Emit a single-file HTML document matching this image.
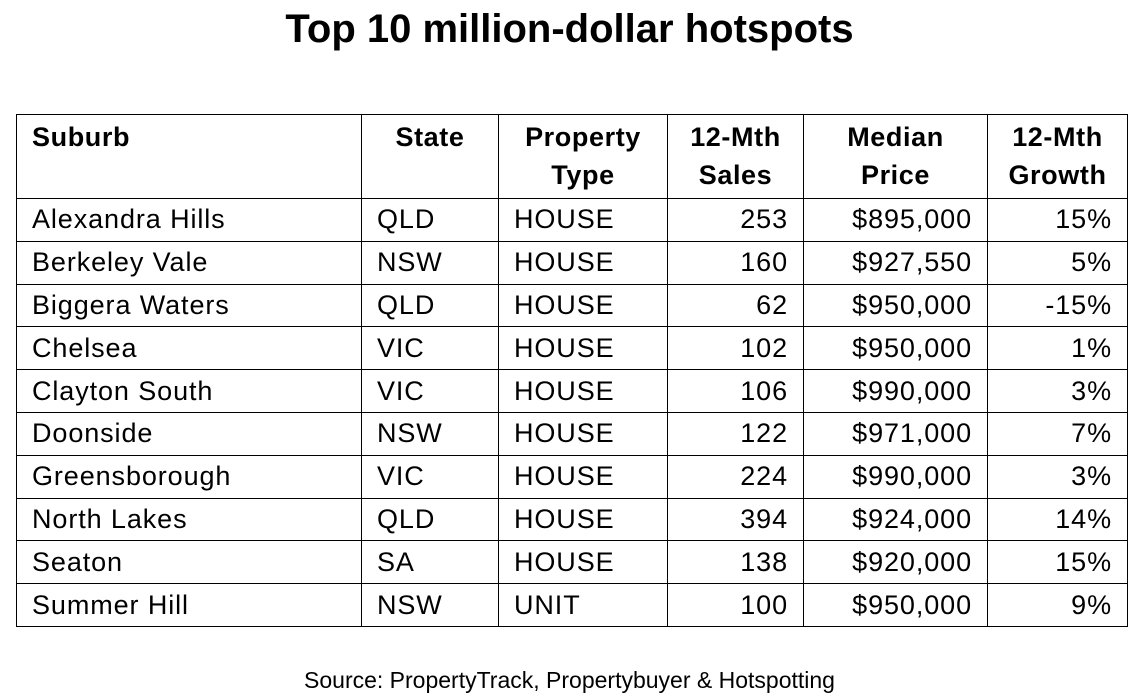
<!DOCTYPE html>
<html><head><meta charset="utf-8"><style>
body{margin:0;width:1139px;height:698px;background:#fff;font-family:"Liberation Sans",sans-serif;color:#000;position:relative;overflow:hidden}
h1{position:absolute;top:7px;left:0;width:1139px;text-align:center;margin:0;font-size:40px;font-weight:bold}
table{position:absolute;left:16px;top:114px;border-collapse:collapse;table-layout:fixed;font-size:27px}
td,th{border:1px solid #000;padding:0 15px;white-space:nowrap;overflow:hidden}
th{height:80px;vertical-align:top;padding-top:3px;line-height:38px;font-weight:bold;text-align:center;letter-spacing:0.6px}
th.l{text-align:left}
td{height:41.8px;line-height:41px;letter-spacing:0.9px}
td.r{text-align:right}
.src{position:absolute;top:667px;left:0;width:1139px;text-align:center;font-size:23px}
</style></head><body>
<h1>Top 10 million-dollar hotspots</h1>
<table>
<colgroup><col style="width:345px"><col style="width:137px"><col style="width:169px"><col style="width:136px"><col style="width:184px"><col style="width:140px"></colgroup>
<thead><tr>
<th class="l">Suburb</th>
<th>State</th>
<th>Property<br>Type</th>
<th>12-Mth<br>Sales</th>
<th>Median<br>Price</th>
<th>12-Mth<br>Growth</th>
</tr></thead>
<tbody id="tb"></tbody>
</table>
<div class="src">Source: PropertyTrack, Propertybuyer &amp; Hotspotting</div>
<script>
const suburbs=["Alexandra Hills","Berkeley Vale","Biggera Waters","Chelsea","Clayton South","Doonside","Greensborough","North Lakes","Seaton","Summer Hill"];
const states=["QLD","NSW","QLD","VIC","VIC","NSW","VIC","QLD","SA","NSW"];
const types=["HOUSE","HOUSE","HOUSE","HOUSE","HOUSE","HOUSE","HOUSE","HOUSE","HOUSE","UNIT"];
const sales=[253,160,62,102,106,122,224,394,138,100];
const prices=["$895,000","$927,550","$950,000","$950,000","$990,000","$971,000","$990,000","$924,000","$920,000","$950,000"];
const growth=["15%","5%","-15%","1%","3%","7%","3%","14%","15%","9%"];
const tb=document.getElementById('tb');
for(let i=0;i<suburbs.length;i++){
  const tr=document.createElement('tr');
  
  
  const vals=[[suburbs[i],''],[states[i],''],[types[i],''],[sales[i],'r'],[prices[i],'r'],[growth[i],'r']];
  const names=['suburb-cell','state-cell','type-cell','sales-cell','price-cell','growth-cell'];
  vals.forEach((v,j)=>{
    const td=document.createElement('td');
    td.textContent=v[0];
    if(v[1])td.className=v[1];
    
    
    tr.appendChild(td);
  });
  tb.appendChild(tr);
}
</script>
</body></html>
